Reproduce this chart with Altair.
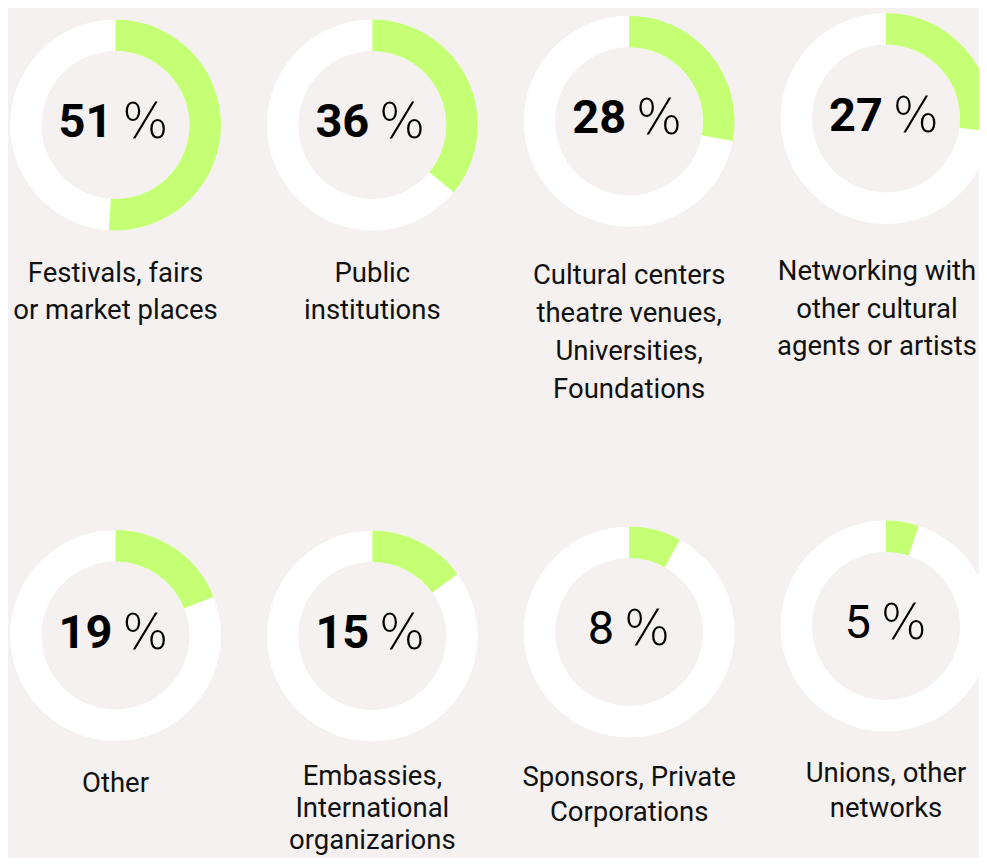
import math
import altair as alt
import pandas as pd

# ---- data ----
categories = [
    ["Festivals, fairs", "or market places"],
    ["Public", "institutions"],
    ["Cultural centers", "theatre venues,", "Universities,", "Foundations"],
    ["Networking with", "other cultural", "agents or artists"],
    ["Other"],
    ["Embassies,", "International", "organizarions"],
    ["Sponsors, Private", "Corporations"],
    ["Unions, other", "networks"],
]
values = [51, 36, 28, 27, 19, 15, 8, 5]

# ---- styling ----
BG = "#f4f1f0"
GREEN = "#c4ff74"
TRACK = "#ffffff"
INK = "#111111"
R_OUT, R_IN = 105.5, 74
# small per-donut vertical nudges (px) and label offsets
nudges = [0, 0, -3.7, -6.5, 0, 0.5, -3.5, -9.5]
label_dy = [156.5, 156.5, 159, 155, 156.5, 149, 150, 146.5]
label_dx = [0, 0, 0, -9, 0, 0, 0, 0]
line_h = [37.5, 37.5, 38, 37.5, 35.5, 32, 35, 35]
num_weight = ["bold", "bold", "bold", "bold", "bold", "bold", "normal", "normal"]

rows = []
for i, (lab, v) in enumerate(zip(categories, values)):
    rows.append({"id": i, "col": i % 4, "row": i // 4, "value": v,
                 "start": 0, "pct": str(v), "sign": "%", "label": lab})
df = pd.DataFrame(rows)

x = alt.X("col:Q", scale=alt.Scale(domain=[0, 3], range=[107.5, 878], nice=False, zero=False), axis=None)
y = alt.Y("row:Q", scale=alt.Scale(domain=[0, 1], range=[117, 627.5], nice=False, zero=False), axis=None)
theta = alt.Theta("start:Q", stack=None, scale=alt.Scale(domain=[0, 100], range=[0, 2 * math.pi]))

layers = []
for i, v in enumerate(values):
    base = alt.Chart(df).transform_filter(alt.datum.id == i)
    d = nudges[i]
    one_digit = len(str(v)) == 1
    ring = base.mark_arc(radius=R_OUT, radius2=R_IN, theta=0, theta2=2 * math.pi,
                         color=TRACK, strokeWidth=0, yOffset=d).encode(x=x, y=y)
    arc = base.mark_arc(radius=R_OUT, radius2=R_IN, color=GREEN, strokeWidth=0,
                        yOffset=d).encode(x=x, y=y, theta=theta, theta2=alt.Theta2("value:Q"))
    num = base.mark_text(align="right", baseline="alphabetic", font="Roboto", fontSize=47,
                         fontWeight=num_weight[i], color="#000000", dx=-15 if one_digit else -3,
                         dy=12, yOffset=d).encode(x=x, y=y, text="pct:N")
    pct = base.mark_text(align="left", baseline="alphabetic", font="DejaVu Sans", fontSize=49,
                         fontWeight=200, color="#000000", dx=-5.5 if one_digit else 6.5,
                         dy=13, yOffset=d).encode(x=x, y=y, text="sign:N")
    lab = base.mark_text(align="center", baseline="alphabetic", font="Roboto", fontSize=27.5,
                         lineHeight=line_h[i], color=INK, dx=label_dx[i],
                         dy=label_dy[i]).encode(x=x, y=y, text="label:N")
    layers += [ring, arc, num, pct, lab]

chart = alt.layer(*layers).properties(
    width=971, height=850, padding=0,
    autosize=alt.AutoSizeParams(type="none"),
    background=BG,
).configure_view(strokeWidth=0)

chart.save("out.html", embed_options={"renderer": "svg", "actions": False})
